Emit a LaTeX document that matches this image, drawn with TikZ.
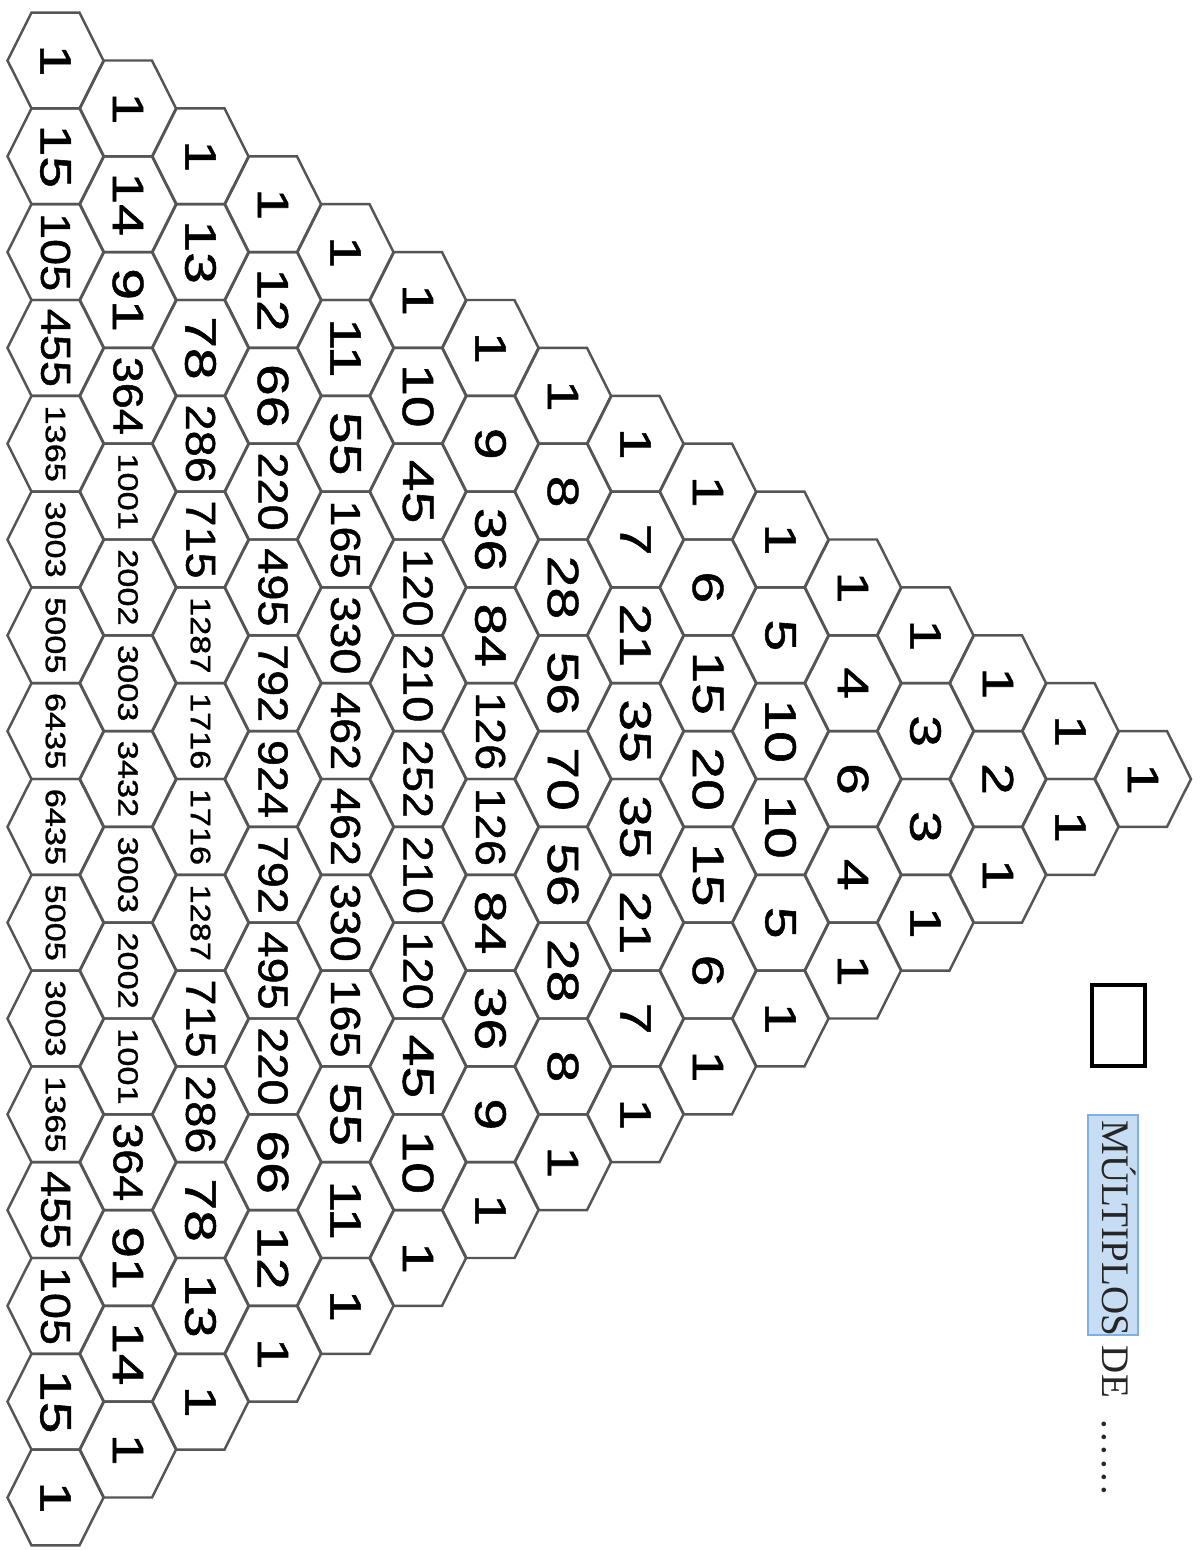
\documentclass[tikz,border=0pt]{standalone}
\usepackage{fontspec}
\setmainfont{Liberation Serif}
\newfontfamily\hexfont{Liberation Sans}[FakeBold=1.0]
\usepackage{graphicx}
\definecolor{hexline}{HTML}{555555}
\definecolor{hlfill}{HTML}{C6DDF4}
\definecolor{hlline}{HTML}{7FB0E2}
% number size depends on how many digits it has
\newcommand\pascalnum[1]{%
  \ifnum#1<100 \scalebox{1.3}[1]{\fontsize{12.5}{14}\selectfont #1}%
  \else\ifnum#1<1000 \scalebox{1.12}[1]{\fontsize{11.9}{14}\selectfont #1}%
  \else \scalebox{1.22}[1]{\fontsize{8}{10}\selectfont #1}\fi\fi}

\begin{document}
\begin{tikzpicture}[
    x=0.01cm, y=-0.01cm,
    hexcell/.style={draw=hexline, line width=0.7pt},
    num/.style={font=\hexfont, rotate=-90, inner sep=0pt},
    answerbox/.style={draw, line width=1.1pt, minimum width=0.53cm, minimum height=0.81cm, inner sep=0pt},
    title/.style={rotate=-90, anchor=base west, inner sep=0pt, font=\fontsize{11.1}{13}\selectfont, text=black!85}
]
    \useasboundingbox (0,0) rectangle (1200,1550);

    % Pascal triangle, lying on its side
    \foreach \vals [count=\n from 0] in {{1},{1,1},{1,2,1},{1,3,3,1},{1,4,6,4,1},
        {1,5,10,10,5,1},{1,6,15,20,15,6,1},{1,7,21,35,35,21,7,1},
        {1,8,28,56,70,56,28,8,1},{1,9,36,84,126,126,84,36,9,1},
        {1,10,45,120,210,252,210,120,45,10,1},
        {1,11,55,165,330,462,462,330,165,55,11,1},
        {1,12,66,220,495,792,924,792,495,220,66,12,1},
        {1,13,78,286,715,1287,1716,1716,1287,715,286,78,13,1},
        {1,14,91,364,1001,2002,3003,3432,3003,2002,1001,364,91,14,1},
        {1,15,105,455,1365,3003,5005,6435,6435,5005,3003,1365,455,105,15,1}}{
        \foreach \v [count=\k from 0] in \vals {
            \pgfmathsetmacro\cx{55.5+(15-\n)*72.5}
            \pgfmathsetmacro\cy{779+(\k-\n/2)*95.8}
            \draw[hexcell] (\cx,\cy) ++(-48,0) -- ++(24,-47.9) -- ++(48,0)
                -- ++(24,47.9) -- ++(-24,47.9) -- ++(-48,0) -- cycle;
            \node[num] (c\n-\k) at (\cx,\cy) {\pascalnum{\v}};
        }
    }

    \node[answerbox] (answer) at (1118.5,1025.5) {};
    \draw[draw=hlline, fill=hlfill, line width=0.5pt] (1088,1115) rectangle (1138,1335);
    \node[title] (multiples) at (1102,1120) {MÚLTIPLOS DE\hspace{0.55em}.\kern1pt.\kern1pt.\kern1pt.\kern1pt.\kern1pt.};
\end{tikzpicture}
\end{document}
